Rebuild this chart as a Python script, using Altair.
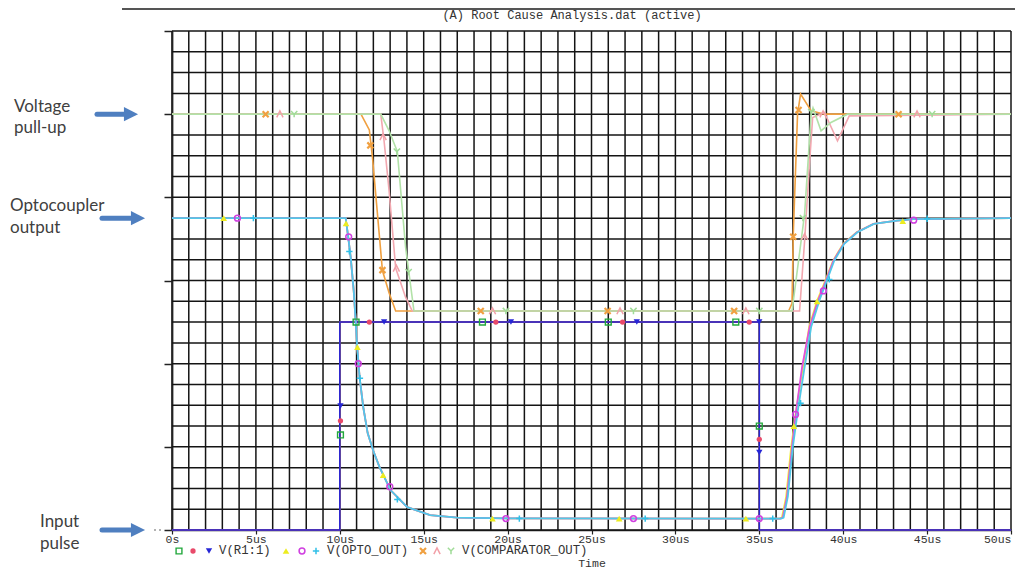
import altair as alt
import pandas as pd

TITLE = "(A) Root Cause Analysis.dat (active)"
X_TITLE = "Time"
x_ticks = [0, 5, 10, 15, 20, 25, 30, 35, 40, 45, 50]
y_ticks = [0, 4, 8, 12, 16, 20, 24]
grid_t = list(range(0, 51))
grid_v = list(range(0, 25))

# ---- V(R1:1)  (input pulse, three identical runs)
r1_t = [0, 10, 10, 35, 35, 50]
r1_v = [0, 0, 10, 10, 0, 0]
r1a_mt = [10.04, 10.97, 18.5, 26.0, 33.6, 35.0]
r1a_mv = [4.57, 10, 10, 10, 10, 5.0]
r1b_mt = [10.04, 11.76, 19.3, 26.85, 34.4, 35.0]
r1b_mv = [5.25, 10, 10, 10, 10, 4.36]
r1c_mt = [10.04, 12.64, 20.2, 27.7, 35.0, 35.0]
r1c_mv = [5.96, 10, 10, 10, 10, 3.73]

# ---- V(OPTO_OUT)
oa_t = [0, 10.35, 10.5, 10.65, 10.83, 10.95, 11.02, 11.18, 11.4, 11.66, 12.0, 12.37, 13.02, 14.02, 15.38, 17.0, 20.0,
        36.2, 36.35, 36.6, 36.9, 37.2, 37.6, 37.97, 38.45, 38.78, 39.4, 40.0, 40.8, 41.8, 43.2, 44.2, 50]
oa_v = [15, 15, 14.1, 13.1, 11.5, 10.0, 9.0, 7.34, 5.9, 4.66, 3.8, 3.02, 1.92, 1.10, 0.72, 0.6, 0.56,
        0.55, 0.6, 1.6, 4.0, 5.76, 7.84, 9.76, 11.04, 11.68, 12.96, 13.76, 14.32, 14.72, 14.88, 14.95, 15]
ob_t = [0, 10.35, 10.5, 10.65, 10.83, 10.95, 11.02, 11.18, 11.4, 11.66, 12.0, 12.37, 13.02, 14.02, 15.38, 17.0, 20.0,
        36.25, 36.4, 36.65, 36.95, 37.2, 37.55, 38.0, 38.5, 38.82, 39.42, 40.03, 40.82, 41.8, 43.2, 44.2, 50]
ob_v = [15, 15, 14.1, 13.1, 11.5, 10.0, 9.0, 7.34, 5.9, 4.66, 3.8, 3.02, 1.92, 1.10, 0.72, 0.6, 0.56,
        0.55, 0.6, 1.6, 4.0, 5.76, 7.84, 9.76, 11.04, 11.68, 12.96, 13.76, 14.32, 14.72, 14.88, 14.95, 15]
oc_t = [0, 10.35, 10.5, 10.65, 10.83, 10.95, 11.02, 11.18, 11.4, 11.66, 12.0, 12.37, 13.02, 14.02, 15.38, 17.0, 20.0,
        36.3, 36.45, 36.7, 37.0, 37.3, 37.7, 38.09, 38.58, 38.88, 39.47, 40.06, 40.85, 41.83, 43.2, 44.2, 50]
oc_v = [15, 15, 14.1, 13.1, 11.5, 10.0, 9.0, 7.34, 5.9, 4.66, 3.8, 3.02, 1.92, 1.10, 0.72, 0.6, 0.56,
        0.55, 0.6, 1.6, 4.0, 5.76, 7.84, 9.76, 11.04, 11.68, 12.96, 13.76, 14.32, 14.72, 14.88, 14.95, 15]
oa_mt = [3.08, 10.37, 11.05, 12.58, 19.1, 26.65, 34.2, 37.06, 38.44, 43.55]
oa_mv = [15, 14.75, 8.8, 2.64, 0.55, 0.55, 0.55, 5.0, 11.0, 14.85]
ob_mt = [3.9, 10.53, 11.1, 12.98, 19.9, 27.5, 35.0, 37.16, 38.82, 44.2]
ob_mv = [15, 14.1, 8.0, 2.08, 0.55, 0.55, 0.55, 5.56, 11.5, 14.9]
oc_mt = [4.85, 10.57, 11.2, 13.43, 20.7, 28.2, 35.8, 37.46, 39.17, 45.0]
oc_mv = [15, 13.4, 7.3, 1.47, 0.55, 0.55, 0.55, 6.1, 12.05, 14.97]

# ---- V(COMPARATOR_OUT)
ca_t = [0, 11.26, 11.76, 11.95, 12.54, 12.94, 13.33, 36.75, 36.95, 37.02, 37.28, 37.46, 38.09, 38.88, 50]
ca_v = [20, 20, 19.24, 17.9, 12.48, 11.4, 10.53, 10.53, 10.9, 14.1, 20.0, 20.97, 20.16, 20.0, 20]
cb_t = [0, 12.44, 12.64, 12.94, 13.33, 13.92, 14.32, 37.4, 37.7, 37.99, 38.18, 38.88, 39.66, 40.36, 50]
cb_v = [20, 20, 18.7, 16.3, 12.6, 11.2, 10.53, 10.53, 13.9, 17.6, 19.84, 20.08, 18.72, 19.92, 20]
cc_t = [0, 12.44, 12.94, 13.43, 13.92, 14.42, 36.95, 37.7, 38.09, 38.2, 38.68, 39.27, 40.26, 50]
cc_v = [20, 20, 19.2, 18.2, 13.6, 10.53, 10.53, 15.2, 20.0, 20.3, 19.2, 19.6, 20.0, 20]
ca_mt = [5.58, 11.82, 12.54, 18.4, 25.96, 33.5, 37.02, 37.34, 43.3]
ca_mv = [20, 18.5, 12.5, 10.53, 10.53, 10.53, 14.1, 20.2, 20]
cb_mt = [6.43, 12.58, 13.37, 19.1, 26.7, 34.2, 37.7, 38.8, 44.4]
cb_mv = [20, 18.9, 12.58, 10.53, 10.53, 10.53, 14.1, 20.0, 20]
cc_mt = [7.28, 13.4, 14.1, 19.9, 27.5, 35.0, 37.6, 38.1, 45.3]
cc_mv = [20, 18.2, 12.4, 10.53, 10.53, 10.53, 15.0, 20.1, 20]

legend_names = ["V(R1:1)", "V(OPTO_OUT)", "V(COMPARATOR_OUT)"]

ann_lines = ["Voltage", "pull-up", "Optocoupler", "output", "Input", "pulse"]
ann_levels = [20, 15, 0]

# ---------------------------------------------------------------------------
W, H = 839, 499
MONO = "Liberation Mono"

X = alt.X("t:Q", scale=alt.Scale(domain=[0, 50], nice=False, zero=False),
          axis=alt.Axis(values=x_ticks, grid=False,
                        labelExpr="datum.value == 0 ? '0s' : datum.value + 'us'",
                        labelFont=MONO, labelFontSize=11.5, labelColor="#333",
                        labelAlign={"condition": {"test": "datum.value == 50", "value": "right"}, "value": "center"},
                        labelOverlap=False, labelFlush=False, labelPadding=-1,
                        tickSize=4, tickColor="#222", tickWidth=1.2,
                        domainColor="#222", domainWidth=1.5,
                        title=X_TITLE, titleFont=MONO, titleFontSize=11.5, titleFontWeight="normal",
                        titleColor="#333", titlePadding=13))
Y = alt.Y("v:Q", scale=alt.Scale(domain=[0, 24], nice=False, zero=False),
          axis=alt.Axis(values=y_ticks, grid=False, labels=False, tickSize=8, tickColor="#222",
                        tickWidth=1.5, domainColor="#555", domainWidth=2, title=None))

layers = []

# grid
layers.append(alt.Chart(pd.DataFrame({"t": grid_t})).mark_rule(color="#141414", strokeWidth=1.5)
              .encode(x=X, y=alt.value(0), y2=alt.value(H)))
layers.append(alt.Chart(pd.DataFrame({"v": grid_v})).mark_rule(color="#141414", strokeWidth=1.5)
              .encode(y=Y, x=alt.value(0), x2=alt.value(W)))

CROSS = "M-1,0L1,0M0,-1L0,1"
XSHAPE = "M-1,-1L1,1M1,-1L-1,1"
CARET = "M-1,1L0,-1L1,1"
YSHAPE = "M-1,-1L0,0L1,-1M0,0L0,1"

traces = [
    # (line t, line v, line color, line width, marker t, marker v, marker style, legend x)
    (r1_t, r1_v, "#22a83c", 1.5, r1a_mt, r1a_mv, dict(shape="square", filled=False, color="#22a83c", size=34, strokeWidth=1.4), 7),
    (r1_t, r1_v, "#e84a6a", 1.5, r1b_mt, r1b_mv, dict(shape="circle", filled=True, color="#e84a6a", size=28), 21),
    (r1_t, r1_v, "#2626d6", 1.5, r1c_mt, r1c_mv, dict(shape="triangle-down", filled=True, color="#2626d6", size=40), 37),
    (ca_t, ca_v, "#f0a040", 1.6, ca_mt, ca_mv, dict(shape=XSHAPE, filled=False, color="#f0a040", size=36, strokeWidth=2.2), 251),
    (cb_t, cb_v, "#f2a8b0", 1.6, cb_mt, cb_mv, dict(shape=CARET, filled=False, color="#f2a0a8", size=40, strokeWidth=1.5), 265),
    (cc_t, cc_v, "#b2e2a8", 1.6, cc_mt, cc_mv, dict(shape=YSHAPE, filled=False, color="#a0dc98", size=40, strokeWidth=1.5), 279),
    (oa_t, oa_v, "#f0f030", 1.8, oa_mt, oa_mv, dict(shape="triangle-up", filled=True, color="#ecec20", size=44), 114),
    (ob_t, ob_v, "#e050e0", 1.8, ob_mt, ob_mv, dict(shape="circle", filled=False, color="#d040e0", size=34, strokeWidth=1.5), 130),
    (oc_t, oc_v, "#52c8e8", 1.8, oc_mt, oc_mv, dict(shape=CROSS, filled=False, color="#30c0e8", size=40, strokeWidth=1.5), 144),
]

LEG_Y = 519
for (lt, lv, lc, lw, mt, mv, mstyle, lx) in traces:
    df = pd.DataFrame({"t": lt, "v": lv, "i": list(range(len(lt)))})
    layers.append(alt.Chart(df).mark_line(color=lc, strokeWidth=lw)
                  .encode(x=X, y=Y, order=alt.Order("i:Q")))
for (lt, lv, lc, lw, mt, mv, mstyle, lx) in traces:
    mdf = pd.DataFrame({"t": mt, "v": mv})
    layers.append(alt.Chart(mdf).mark_point(opacity=1, **mstyle).encode(x=X, y=Y))
    layers.append(alt.Chart(pd.DataFrame({"k": [1]})).mark_point(opacity=1, **mstyle)
                  .encode(x=alt.value(lx), y=alt.value(LEG_Y + 1)))

# legend labels
for name, lx in zip(legend_names, [47, 155, 290]):
    layers.append(alt.Chart(pd.DataFrame({"label": [name]}))
                  .mark_text(align="left", baseline="middle", font=MONO, fontSize=12.3, color="#333")
                  .encode(x=alt.value(lx), y=alt.value(LEG_Y), text="label:N"))

# title and top bar
layers.append(alt.Chart(pd.DataFrame({"label": [TITLE]}))
              .mark_text(align="center", baseline="middle", font=MONO, fontSize=12, color="#333")
              .encode(x=alt.value(400), y=alt.value(-16), text="label:N"))
layers.append(alt.Chart(pd.DataFrame({"k": [1]})).mark_rule(color="#555", strokeWidth=2)
              .encode(x=alt.value(-50), x2=alt.value(W + 4), y=alt.value(-22)))

# dotted tick near input pulse
layers.append(alt.Chart(pd.DataFrame({"v": [0]})).mark_rule(color="#999", strokeWidth=1.5, strokeDash=[2, 3])
              .encode(y=Y, x=alt.value(-18), x2=alt.value(-8)))

# annotations with arrows
ARROW = "#4f7fc0"
ann_pos = [(-158, -2, 19, -75, -34), (-162, -7, 15, -70, -27), (-132, -3, 19, -70, -27)]
for k, lev in enumerate(ann_levels):
    tx, dy1, dy2, ax0, ax1 = ann_pos[k]
    adf = pd.DataFrame({"v": [lev], "l1": [ann_lines[2 * k]], "l2": [ann_lines[2 * k + 1]]})
    base = alt.Chart(adf)
    layers.append(base.mark_text(align="left", baseline="alphabetic", font="Lato", fontSize=17,
                                 color="#404040", dy=dy1)
                  .encode(x=alt.value(tx), y=Y, text="l1:N"))
    layers.append(base.mark_text(align="left", baseline="alphabetic", font="Lato", fontSize=17,
                                 color="#404040", dy=dy2)
                  .encode(x=alt.value(tx), y=Y, text="l2:N"))
    layers.append(base.mark_rule(color=ARROW, strokeWidth=5, strokeCap="round")
                  .encode(x=alt.value(ax0), x2=alt.value(ax1 - 10), y=Y))
    layers.append(base.mark_point(shape="M-1,-1L1,0L-1,1Z", filled=True, color=ARROW, size=200, opacity=1)
                  .encode(x=alt.value(ax1 - 7), y=Y))

chart = (alt.layer(*layers)
         .properties(width=W, height=H, autosize=alt.AutoSizeParams(type="none"),
                     padding={"left": 164, "top": 23, "right": 4, "bottom": 39},
                     background="white")
         .configure_view(stroke=None))

chart.save("out.html", embed_options={"renderer": "svg", "actions": False})
